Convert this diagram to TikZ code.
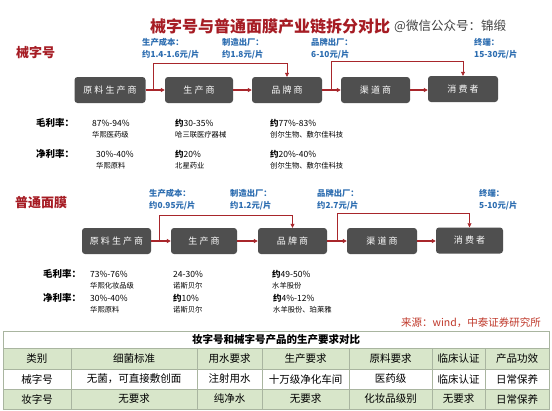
\documentclass[tikz,border=0pt]{standalone}
\usepackage{fontspec}
\setmainfont{Noto Sans CJK SC}
\usetikzlibrary{arrows.meta}
\definecolor{stagegray}{HTML}{4F4F4F}
\definecolor{flowred}{HTML}{A8262B}
\definecolor{titlered}{HTML}{A61C24}
\definecolor{priceblue}{HTML}{2B6CB0}
\definecolor{tablegreen}{HTML}{D8E6CA}
\definecolor{tableline}{HTML}{A9B5A0}
\definecolor{sourcered}{HTML}{C0392B}
\begin{document}
\begin{tikzpicture}[x=1pt,y=-1pt,
  stagebox/.style={fill=stagegray, rounded corners=3pt, text=white, font=\fontsize{9}{10}\selectfont, minimum height=26pt, inner sep=0pt},
  flow/.style={flowred, line width=1.2pt, -{Triangle[length=4pt,width=4pt]}},
  bypass/.style={flowred, line width=0.6pt, -{Triangle[length=4pt,width=4pt]}},
  price/.style={text=priceblue, font=\fontsize{8.3}{12}\selectfont\bfseries, align=left, anchor=north west, inner sep=0pt},
  rowlabel/.style={font=\fontsize{9.5}{10}\selectfont\bfseries, anchor=west, inner sep=0pt},
  valtxt/.style={font=\fontsize{8.5}{9}\selectfont, anchor=west, inner sep=0pt},
  subtxt/.style={font=\fontsize{7.3}{8}\selectfont, anchor=west, inner sep=0pt},
  seclabel/.style={text=titlered, font=\fontsize{13}{15}\selectfont\bfseries, anchor=west, inner sep=0pt},
  cell/.style={font=\fontsize{10.5}{12}\selectfont, inner sep=0pt},
]
\useasboundingbox[fill=white] (0,0) rectangle (552,410);

% title
\node[font=\fontsize{16}{18}\selectfont\bfseries, text=titlered, inner sep=0pt] (title) at (270,26) {械字号与普通面膜产业链拆分对比};
\node[font=\fontsize{12.5}{14}\selectfont, text=black!75, anchor=west, inner sep=0pt] (wm) at (394,26) {@微信公众号：锦缎};

% ---------- section 1 ----------
\node[seclabel] (s1) at (16,53) {械字号};
\node[price] (p11) at (142,38) {生产成本：\\约1.4-1.6元/片};
\node[price] (p12) at (222,38) {制造出厂：\\约1.8元/片};
\node[price] (p13) at (311,38) {品牌出厂：\\6-10元/片};
\node[price] (p14) at (474,38) {终端：\\15-30元/片};

\node[stagebox, minimum width=71pt] (A1) at (110,90) {原 料 生 产 商};
\node[stagebox, minimum width=68pt] (B1) at (199,90) {生 产 商};
\node[stagebox, minimum width=70pt] (C1) at (287,90) {品 牌 商};
\node[stagebox, minimum width=69pt] (D1) at (375.5,90) {渠 道 商};
\node[stagebox, minimum width=70pt] (E1) at (463,89) {消 费 者};

\draw[flow] (A1) -- (B1);
\draw[flow] (B1) -- (C1);
\draw[flow] (C1) -- (D1);
\draw[flow] (D1) -- (E1.west |- D1);

\coordinate (b11) at (153,90);
\coordinate (k11) at (153,63);
\draw[bypass] (b11) -- (k11) -| (C1.north);
\coordinate (b12) at (331,90);
\coordinate (k12) at (331,61);
\draw[bypass] (b12) -- (k12) -| (E1.north);

\node[rowlabel] (g1) at (36,123) {毛利率：};
\node[valtxt] (g11) at (92,123) {87\%-94\%};
\node[subtxt] (g11s) at (92,135) {华熙医药级};
\node[valtxt] (g12) at (175,123) {\textbf{约}30-35\%};
\node[subtxt] (g12s) at (175,135) {哈三联医疗器械};
\node[valtxt] (g13) at (270,123) {\textbf{约}77\%-83\%};
\node[subtxt] (g13s) at (270,135) {创尔生物、敷尔佳科技};

\node[rowlabel] (n1) at (36,154) {净利率：};
\node[valtxt] (n11) at (96,154) {30\%-40\%};
\node[subtxt] (n11s) at (96,166) {华熙原料};
\node[valtxt] (n12) at (175,154) {\textbf{约}20\%};
\node[subtxt] (n12s) at (175,166) {北星药业};
\node[valtxt] (n13) at (270,154) {\textbf{约}20\%-40\%};
\node[subtxt] (n13s) at (270,166) {创尔生物、敷尔佳科技};

% ---------- section 2 ----------
\node[seclabel] (s2) at (15,203) {普通面膜};
\node[price] (p21) at (149,189) {生产成本：\\约0.95元/片};
\node[price] (p22) at (230,189) {制造出厂：\\约1.2元/片};
\node[price] (p23) at (317,189) {品牌出厂：\\约2.7元/片};
\node[price] (p24) at (479,189) {终端：\\5-10元/片};

\node[stagebox, minimum width=69pt] (A2) at (116.5,241) {原 料 生 产 商};
\node[stagebox, minimum width=66pt] (B2) at (204,241) {生 产 商};
\node[stagebox, minimum width=69pt] (C2) at (292.5,241) {品 牌 商};
\node[stagebox, minimum width=70pt] (D2) at (382,241) {渠 道 商};
\node[stagebox, minimum width=67pt] (E2) at (469.5,240.5) {消 费 者};

\draw[flow] (A2) -- (B2);
\draw[flow] (B2) -- (C2);
\draw[flow] (C2) -- (D2);
\draw[flow] (D2) -- (E2.west |- D2);

\coordinate (b21) at (159,241);
\coordinate (k21) at (159,215);
\draw[bypass] (b21) -- (k21) -| (C2.north);
\coordinate (b22) at (337,241);
\coordinate (k22) at (337,213);
\draw[bypass] (b22) -- (k22) -| (E2.north);

\node[rowlabel] (g2) at (43,274) {毛利率：};
\node[valtxt] (g21) at (90,274) {73\%-76\%};
\node[subtxt] (g21s) at (90,286) {华熙化妆品级};
\node[valtxt] (g22) at (173,274) {24-30\%};
\node[subtxt] (g22s) at (173,286) {诺斯贝尔};
\node[valtxt] (g23) at (272,274) {\textbf{约}49-50\%};
\node[subtxt] (g23s) at (272,286) {水羊股份};

\node[rowlabel] (n2) at (43,298) {净利率：};
\node[valtxt] (n21) at (90,298) {30\%-40\%};
\node[subtxt] (n21s) at (90,310) {华熙原料};
\node[valtxt] (n22) at (173,298) {\textbf{约}10\%};
\node[subtxt] (n22s) at (173,310) {诺斯贝尔};
\node[valtxt] (n23) at (273,298) {\textbf{约}4\%-12\%};
\node[subtxt] (n23s) at (273,310) {水羊股份、珀莱雅};

\node[text=sourcered, font=\fontsize{10.5}{12}\selectfont, anchor=east, inner sep=0pt] (src) at (541,323) {来源：wind，中泰证券研究所};

% ---------- table ----------
\fill[tablegreen] (3,348) rectangle (549,369);
\fill[tablegreen] (3,389) rectangle (549,409);
\draw[tableline, line width=0.6pt] (3,331) rectangle (549,409);
\foreach \yy in {348,369,389} \draw[tableline, line width=0.6pt] (3,\yy) -- (549,\yy);
\foreach \xx in {71,197,262,349,432,485} \draw[tableline, line width=0.6pt] (\xx,348) -- (\xx,409);
\node[cell, font=\fontsize{10.5}{12}\selectfont\bfseries] (tt) at (276,339.5) {妆字号和械字号产品的生产要求对比};

\foreach \cx/\txt [count=\i] in {37/类别,134/细菌标准,229.5/用水要求,305.5/生产要求,390.5/原料要求,458.5/临床认证,517/产品功效}
  \node[cell] (h\i) at (\cx,358.5) {\txt};
\foreach \cx/\txt [count=\i] in {37/械字号,134/{无菌，可直接敷创面},229.5/注射用水,305.5/十万级净化车间,390.5/医药级,458.5/临床认证,517/日常保养}
  \node[cell] (r\i) at (\cx,379) {\txt};
\foreach \cx/\txt [count=\i] in {37/妆字号,134/无要求,229.5/纯净水,305.5/无要求,390.5/化妆品级别,458.5/无要求,517/日常保养}
  \node[cell] (q\i) at (\cx,399) {\txt};
\end{tikzpicture}
\end{document}
